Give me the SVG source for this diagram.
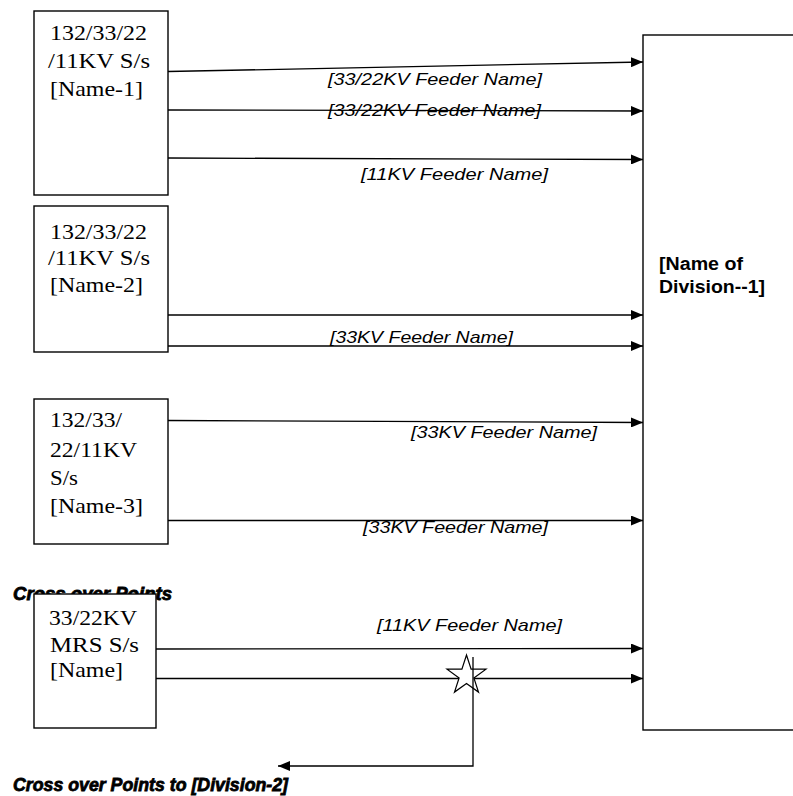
<svg xmlns="http://www.w3.org/2000/svg" width="793" height="796" viewBox="0 0 793 796">
<style>
.box{fill:#fff;stroke:#000;stroke-width:1.4}
.ss{font-family:"Liberation Serif","Times New Roman",serif;font-size:21px;fill:#000}
.fl{font-family:"Liberation Sans",Arial,sans-serif;font-size:16.5px;font-style:italic;fill:#000}
.cp{font-family:"Liberation Sans",Arial,sans-serif;font-size:18px;font-style:italic;font-weight:bold;fill:#000;stroke:#000;stroke-width:0.8}
.dv{font-family:"Liberation Sans",Arial,sans-serif;font-size:18px;font-weight:bold;fill:#000}
.cn{fill:none;stroke:#000;stroke-width:1.3}
</style>
<defs>
<marker id="ah" markerUnits="userSpaceOnUse" markerWidth="12" markerHeight="10" refX="12" refY="5" orient="auto">
<path d="M0,0 L12,5 L0,10 z" fill="#000"/>
</marker>
</defs>
<rect width="793" height="796" fill="#fff"/>

<g id="division1">
<rect class="box" x="643" y="35" width="200" height="695"/>
<text class="dv" x="659" y="270" textLength="84" lengthAdjust="spacingAndGlyphs">[Name of</text>
<text class="dv" x="659" y="293" textLength="106" lengthAdjust="spacingAndGlyphs">Division--1]</text>
</g>

<g id="connectors">
<line class="cn" x1="168" y1="71.5" x2="643" y2="62" marker-end="url(#ah)"/>
<line class="cn" x1="168" y1="110" x2="643" y2="111" marker-end="url(#ah)"/>
<line class="cn" x1="168" y1="158" x2="643" y2="159.5" marker-end="url(#ah)"/>
<line class="cn" x1="168" y1="315" x2="643" y2="315" marker-end="url(#ah)"/>
<line class="cn" x1="168" y1="346" x2="643" y2="346" marker-end="url(#ah)"/>
<line class="cn" x1="168" y1="420.5" x2="643" y2="422.5" marker-end="url(#ah)"/>
<line class="cn" x1="168" y1="520.5" x2="643" y2="520.5" marker-end="url(#ah)"/>
<line class="cn" x1="156" y1="649" x2="643" y2="648.5" marker-end="url(#ah)"/>
<line class="cn" x1="156" y1="678.5" x2="643" y2="678.5" marker-end="url(#ah)"/>
</g>

<g id="feeder-labels">
<text class="fl" x="328" y="85" textLength="214" lengthAdjust="spacingAndGlyphs">[33/22KV Feeder Name]</text>
<text class="fl" x="328" y="116" textLength="213" lengthAdjust="spacingAndGlyphs">[33/22KV Feeder Name]</text>
<text class="fl" x="361" y="180" textLength="187" lengthAdjust="spacingAndGlyphs">[11KV Feeder Name]</text>
<text class="fl" x="330" y="343" textLength="183" lengthAdjust="spacingAndGlyphs">[33KV Feeder Name]</text>
<text class="fl" x="411" y="438" textLength="186" lengthAdjust="spacingAndGlyphs">[33KV Feeder Name]</text>
<text class="fl" x="363" y="533" textLength="185" lengthAdjust="spacingAndGlyphs">[33KV Feeder Name]</text>
<text class="fl" x="377" y="631" textLength="185" lengthAdjust="spacingAndGlyphs">[11KV Feeder Name]</text>
</g>

<g id="ss1">
<rect class="box" x="34" y="11" width="134" height="184"/>
<text class="ss" x="50" y="40" textLength="97" lengthAdjust="spacingAndGlyphs">132/33/22</text>
<text class="ss" x="48" y="68" textLength="102" lengthAdjust="spacingAndGlyphs">/11KV S/s</text>
<text class="ss" x="50" y="96" textLength="93" lengthAdjust="spacingAndGlyphs">[Name-1]</text>
</g>

<g id="ss2">
<rect class="box" x="34" y="206" width="134" height="146"/>
<text class="ss" x="50" y="239" textLength="97" lengthAdjust="spacingAndGlyphs">132/33/22</text>
<text class="ss" x="48" y="265" textLength="102" lengthAdjust="spacingAndGlyphs">/11KV S/s</text>
<text class="ss" x="50" y="292" textLength="93" lengthAdjust="spacingAndGlyphs">[Name-2]</text>
</g>

<g id="ss3">
<rect class="box" x="34" y="399" width="134" height="145"/>
<text class="ss" x="50" y="427" textLength="72" lengthAdjust="spacingAndGlyphs">132/33/</text>
<text class="ss" x="50" y="457" textLength="87" lengthAdjust="spacingAndGlyphs">22/11KV</text>
<text class="ss" x="50" y="485" textLength="28" lengthAdjust="spacingAndGlyphs">S/s</text>
<text class="ss" x="50" y="513" textLength="93" lengthAdjust="spacingAndGlyphs">[Name-3]</text>
</g>

<text class="cp" x="13" y="600" textLength="159" lengthAdjust="spacingAndGlyphs">Cross over Points</text>

<g id="mrs">
<rect class="box" x="34" y="594" width="122" height="134"/>
<text class="ss" x="49" y="625" textLength="88" lengthAdjust="spacingAndGlyphs">33/22KV</text>
<text class="ss" x="50" y="652" textLength="89" lengthAdjust="spacingAndGlyphs">MRS S/s</text>
<text class="ss" x="50" y="677" textLength="73" lengthAdjust="spacingAndGlyphs">[Name]</text>
</g>

<g id="crossover">
<polygon points="466.5,655 471.1,669.2 486,669.2 473.9,678 478.5,692.1 466.5,683.4 454.5,692.1 459.1,678 447,669.2 461.9,669.2" fill="#fff" stroke="#000" stroke-width="1.2"/>
<path class="cn" d="M473,657 V766 H278" marker-end="url(#ah)"/>
<text class="cp" x="13" y="791" textLength="275" lengthAdjust="spacingAndGlyphs">Cross over Points to [Division-2]</text>
</g>
</svg>
